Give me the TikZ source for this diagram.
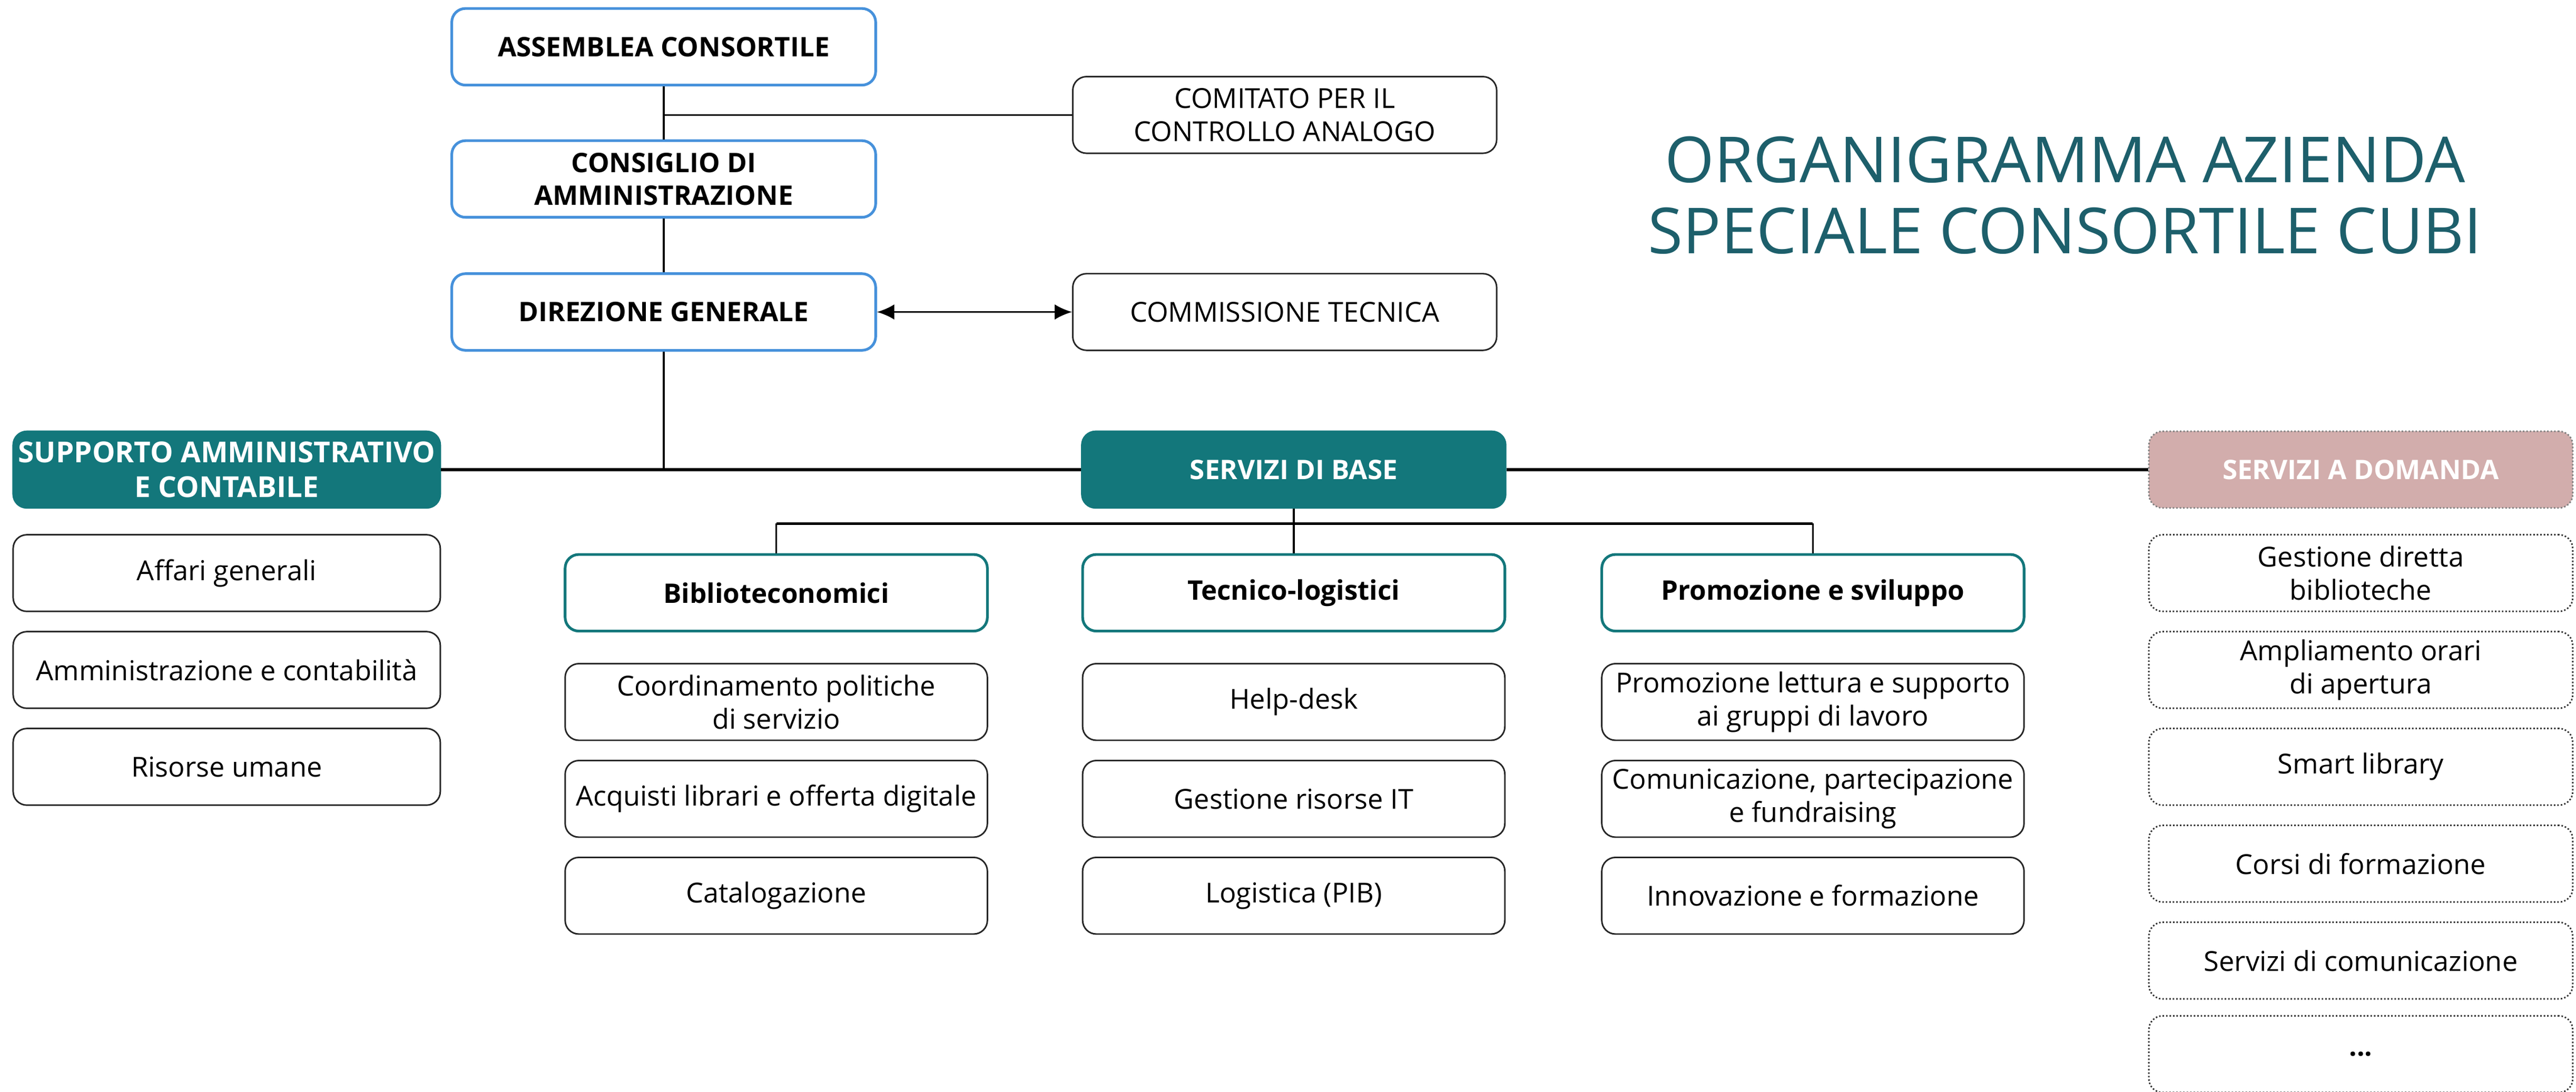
\documentclass[tikz,border=0pt]{standalone}
\usepackage{fontspec}
\setmainfont{Open Sans}
\usepackage{tikz}
\usetikzlibrary{arrows.meta}

\definecolor{verdecubi}{HTML}{13777B}
\definecolor{bluorgano}{HTML}{4691DB}
\definecolor{rosacubi}{HTML}{D2ADAC}
\definecolor{titolocubi}{HTML}{1D5F6B}

\tikzset{
  box/.style={rounded corners=0.25cm, minimum width=7.74cm, minimum height=1.4cm,
    align=center, inner sep=0pt, line width=0.8pt, fill=white,
    font=\fontsize{14.3}{17.3}\selectfont},
  organo/.style={box, draw=bluorgano, line width=1.4pt, font=\fontsize{14}{17}\selectfont\bfseries},
  voce/.style={box, draw=black!85},
  area/.style={box, fill=verdecubi, draw=verdecubi, text=white, font=\fontsize{14}{17}\selectfont\bfseries},
  ufficio/.style={box, draw=verdecubi, line width=1.4pt, font=\fontsize{14}{17}\selectfont\bfseries},
  extra/.style={box, draw=black!80, densely dotted},
  domanda/.style={box, fill=rosacubi, draw=black!50, densely dotted, text=white, font=\fontsize{14}{17}\selectfont\bfseries},
  linea/.style={line width=0.9pt},
  barra/.style={line width=1.5pt}
}

\begin{document}
\begin{tikzpicture}[x=0.03cm, y=-0.03cm]
\useasboundingbox (0,0) rectangle (1568,665);

% organi
\node[organo] (assemblea) at (404,28.5) {ASSEMBLEA CONSORTILE};
\node[voce] (comitato) at (782,70) {COMITATO PER IL\\CONTROLLO ANALOGO};
\node[organo] (consiglio) at (404,109) {CONSIGLIO DI\\AMMINISTRAZIONE};
\node[organo] (direzione) at (404,190) {DIREZIONE GENERALE};
\node[voce] (commissione) at (782,190) {COMMISSIONE TECNICA};

\node[text=titolocubi, align=center, font=\fontsize{33}{37}\selectfont] (titolo) at (1257,119)
  {ORGANIGRAMMA AZIENDA\\SPECIALE CONSORTILE CUBI};

% aree
\node[area, minimum width=7.8cm, font=\fontsize{15}{18}\selectfont\bfseries] (supporto) at (138,286)
  {SUPPORTO AMMINISTRATIVO\\E CONTABILE};
\node[area] (base) at (787.5,286) {SERVIZI DI BASE};
\node[domanda] (adomanda) at (1437,286) {SERVIZI A DOMANDA};

\node[ufficio, minimum width=7.71cm] (biblio) at (472.5,361) {Biblioteconomici};
\node[ufficio, minimum width=7.71cm] (tecnico) at (787.5,361) {Tecnico-logistici};
\node[ufficio, minimum width=7.71cm] (promo) at (1103.5,361) {Promozione e sviluppo};

% supporto
\node[voce, minimum width=7.8cm] (affari) at (138,349) {Affari generali};
\node[voce, minimum width=7.8cm] (contabilita) at (138,408) {Amministrazione e contabilità};
\node[voce, minimum width=7.8cm] (risorse) at (138,467) {Risorse umane};

% servizi di base
\node[voce, minimum width=7.71cm] (coord) at (472.5,427.5) {Coordinamento politiche\\di servizio};
\node[voce, minimum width=7.71cm] (acquisti) at (472.5,486.5) {Acquisti librari e offerta digitale};
\node[voce, minimum width=7.71cm] (catalog) at (472.5,545.5) {Catalogazione};

\node[voce, minimum width=7.71cm] (helpdesk) at (787.5,427.5) {Help-desk};
\node[voce, minimum width=7.71cm] (risorseit) at (787.5,486.5) {Gestione risorse IT};
\node[voce, minimum width=7.71cm] (logistica) at (787.5,545.5) {Logistica (PIB)};

\node[voce, minimum width=7.71cm] (lettura) at (1103.5,427.5) {Promozione lettura e supporto\\ai gruppi di lavoro};
\node[voce, minimum width=7.71cm] (comunic) at (1103.5,486.5) {Comunicazione, partecipazione\\e fundraising};
\node[voce, minimum width=7.71cm] (innova) at (1103.5,545.5) {Innovazione e formazione};

% servizi a domanda
\node[extra] (gestione) at (1437,349) {Gestione diretta\\biblioteche};
\node[extra] (orari) at (1437,408) {Ampliamento orari\\di apertura};
\node[extra] (smart) at (1437,467) {Smart library};
\node[extra] (corsi) at (1437,526) {Corsi di formazione};
\node[extra] (servcom) at (1437,585) {Servizi di comunicazione};
\node[extra, font=\fontsize{14}{17}\selectfont\bfseries] (altro) at (1437,642) {...};

% collegamenti
\draw[linea] (assemblea) -- (consiglio);
\draw[linea] (assemblea.south |- comitato.west) -- (comitato.west);
\draw[linea] (consiglio) -- (direzione);
\draw[linea, {Latex[length=9pt,width=8pt]}-{Latex[length=9pt,width=8pt]}] (direzione) -- (commissione);
\draw[linea] (direzione) -- (direzione.south |- base.west);
\draw[barra] (supporto) -- (base);
\draw[barra] (base) -- (adomanda);
\draw[linea] (base) -- (tecnico);
\draw[barra] (biblio.north) ++(0,-18) -- ++(631,0);
\draw[linea] (biblio.north) -- ++(0,-18);
\draw[linea] (promo.north) -- ++(0,-18);

\end{tikzpicture}
\end{document}
